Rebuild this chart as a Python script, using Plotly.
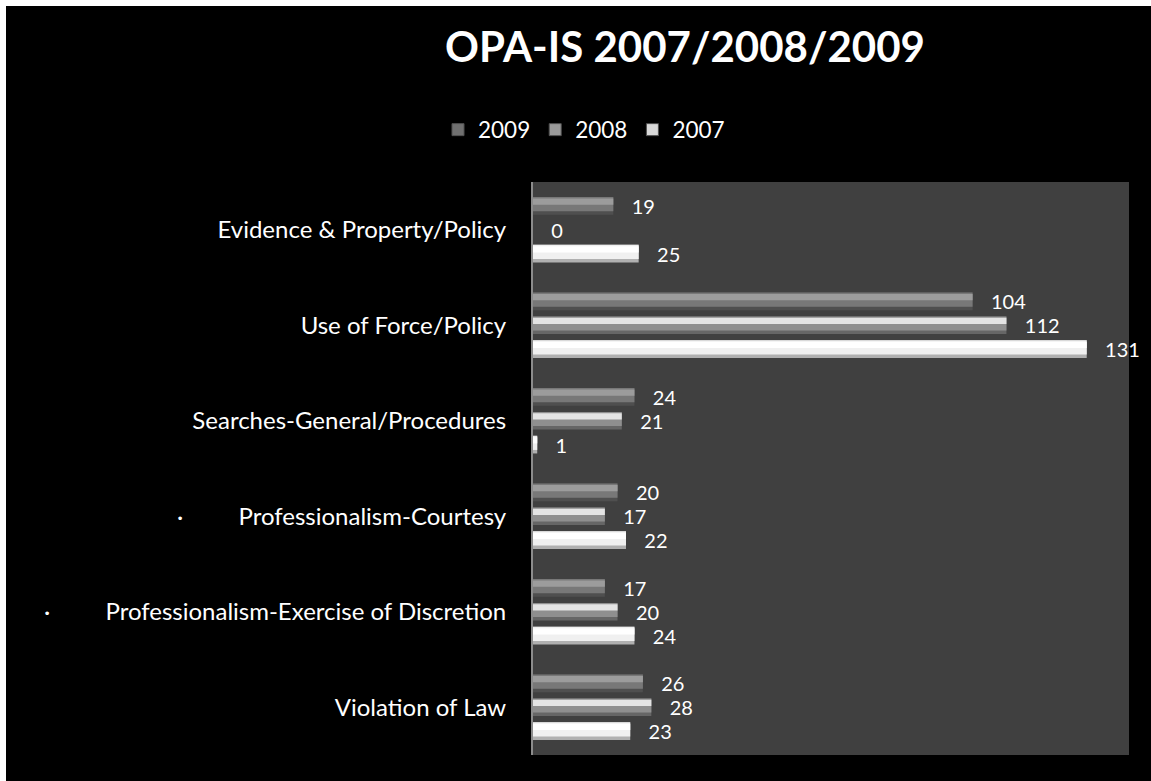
import plotly.graph_objects as go

# Complaint categories, top to bottom
categories = [
    "Evidence & Property/Policy",
    "Use of Force/Policy",
    "Searches-General/Procedures",
    "·" + "\u00a0" * 9 + "Professionalism-Courtesy",
    "·" + "\u00a0" * 9 + "Professionalism-Exercise of Discretion",
    "Violation of Law",
]
years = ["2009", "2008", "2007"]
counts_2009 = [19, 104, 24, 20, 17, 26]
counts_2008 = [0, 112, 21, 17, 20, 28]
counts_2007 = [25, 131, 1, 22, 24, 23]
series = {"2009": counts_2009, "2008": counts_2008, "2007": counts_2007}

# Bevelled look: each bar = dark edge + body + light highlight strip
shades = {
    "2009": ("#4f4f4f", "#787878", "#9c9c9c"),
    "2008": ("#666666", "#8f8f8f", "#e4e4e4"),
    "2007": ("#b0b0b0", "#f0f0f0", "#ffffff"),
}
legend_swatch = {"2009": "#707070", "2008": "#9a9a9a", "2007": "#d8d8d8"}

W_PX, H_PX = 1151, 781
M_L, M_R, M_T, M_B = 533, 22, 182, 26
PW = W_PX - M_L - M_R
PH = H_PX - M_T - M_B

pitch = 0.25      # distance between bar centres inside a group (category units)
thick = 0.185     # bar thickness (category units)

fig = go.Figure()
for j, yr in enumerate(years):
    vals = series[yr]
    edge, body, hi = shades[yr]
    top = (j - 1) * pitch - thick / 2
    # edge layer carries the value labels
    fig.add_trace(go.Bar(
        y=categories, x=vals, orientation="h",
        offset=top, width=thick,
        marker=dict(color=edge, line=dict(width=0)),
        text=["\u00a0\u00a0\u00a0" + str(v) for v in vals],
        textposition="outside", constraintext="none", cliponaxis=False,
        textfont=dict(family="Lato", size=20, color="#ffffff"),
        showlegend=False, hoverinfo="skip",
    ))
    fig.add_trace(go.Bar(
        y=categories, x=vals, orientation="h",
        offset=top, width=thick * 0.8,
        marker=dict(color=body, line=dict(width=0)),
        showlegend=False, hoverinfo="x",
    ))
    fig.add_trace(go.Bar(
        y=categories, x=vals, orientation="h",
        offset=top + thick * 0.08, width=thick * 0.35,
        marker=dict(color=hi, line=dict(width=0)),
        showlegend=False, hoverinfo="skip",
    ))
    # legend entry only
    fig.add_trace(go.Bar(
        y=[None], x=[None], orientation="h", name=yr, legendrank=j + 1,
        marker=dict(color=legend_swatch[yr], line=dict(color="#505050", width=1)),
        showlegend=True, hoverinfo="skip",
    ))

def px_x(px):
    return (px - M_L) / PW

def px_y(py):
    return (H_PX - M_B - py) / PH

# white strips along the top and left edges of the picture
shapes = [
    dict(type="rect", xref="paper", yref="paper", x0=px_x(0), x1=px_x(W_PX),
         y0=px_y(6), y1=px_y(0), fillcolor="#ffffff", line=dict(width=0), layer="above"),
    dict(type="rect", xref="paper", yref="paper", x0=px_x(0), x1=px_x(6),
         y0=px_y(H_PX), y1=px_y(0), fillcolor="#ffffff", line=dict(width=0), layer="above"),
]

fig.update_layout(
    width=W_PX, height=H_PX,
    margin=dict(l=M_L, r=M_R, t=M_T, b=M_B, pad=0),
    paper_bgcolor="#000000", plot_bgcolor="#404040",
    barmode="overlay",
    font=dict(family="Lato", color="#ffffff"),
    title=dict(text="<b>OPA-IS 2007/2008/2009</b>", x=px_x(685), xref="paper",
               xanchor="center", y=1 - 47 / H_PX, yref="container", yanchor="middle",
               font=dict(family="Lato", size=42, color="#ffffff")),
    legend=dict(orientation="h", x=px_x(438), xanchor="left", y=px_y(130), yanchor="middle",
                font=dict(family="Lato", size=22.5, color="#ffffff"),
                bgcolor="rgba(0,0,0,0)", itemwidth=30, traceorder="normal"),
    xaxis=dict(range=[0, 141], visible=False, showgrid=False, zeroline=False),
    yaxis=dict(categoryorder="array", categoryarray=categories, autorange="reversed",
               showline=True, linecolor="#8c8c8c", linewidth=2,
               ticks="outside", ticklen=20, tickcolor="rgba(0,0,0,0)",
               showgrid=False, zeroline=False,
               tickfont=dict(family="Lato", size=24, color="#ffffff")),
    shapes=shapes,
    showlegend=True,
)

fig.write_html("out.html")
